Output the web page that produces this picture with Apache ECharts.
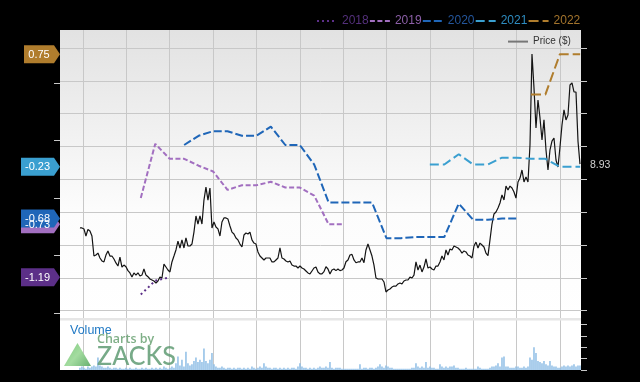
<!DOCTYPE html>
<html><head><meta charset="utf-8">
<style>html,body{margin:0;padding:0;background:#000}#c{width:640px;height:382px}</style>
<script src="https://cdn.jsdelivr.net/npm/echarts@6/dist/echarts.min.js"></script>
</head><body><div id="c"></div>
<script>
// x unit: months since the first vertical grid line
const monthTicks=[0,3,6,9,12,15,18,21,24,27,30,33];
const priceTicks=[0,2,4,6,8,10,12,14,16];
const epsTicks=[0.5,0,-0.5,-1,-1.5];
const volumeTicks=[0,10,20,30,40];
const priceStartMonth=-0.21, priceStepMonth=0.1384;
const priceValues=[5.05,5.04,4.98,4.55,4.95,4.85,4.55,3.33,3.39,3.51,3.21,3.03,2.97,3.39,3.64,3.33,3.33,3.15,2.91,2.72,
3.27,2.66,2.78,2.68,2.44,2.30,2.05,2.30,2.17,2.31,2.11,2.17,2.54,2.17,2.07,1.93,1.87,1.81,1.69,1.81,
2.05,1.99,2.84,2.66,2.48,2.36,2.97,3.33,3.70,4.24,3.82,4.31,3.82,4.43,3.94,3.94,4.06,4.79,5.77,5.28,
5.77,5.28,6.74,7.53,6.74,7.47,5.04,5.40,5.10,4.98,4.55,5.40,5.65,5.65,5.58,5.16,4.79,4.67,4.43,4.31,
4.06,3.88,4.61,4.73,4.67,4.79,4.31,4.12,4.06,3.58,3.33,3.21,3.09,3.21,3.21,3.21,2.97,2.97,3.09,3.21,
3.82,3.21,3.15,3.03,2.97,3.03,2.78,2.72,2.72,2.60,2.72,2.60,2.54,2.42,2.30,2.24,2.42,2.60,2.66,2.36,
2.24,2.24,2.38,2.68,2.54,2.24,2.48,2.54,2.44,2.54,2.44,2.48,2.60,2.98,3.09,3.39,3.43,3.09,2.92,2.97,
2.97,3.21,2.92,3.70,4.06,3.70,3.33,2.78,1.99,1.93,1.93,1.93,1.75,1.14,1.26,1.32,1.44,1.50,1.50,1.63,
1.69,1.63,1.81,1.87,1.87,2.05,1.99,2.17,2.97,2.48,2.78,2.36,2.66,3.15,2.60,2.66,2.54,2.48,2.72,2.72,
2.97,3.33,3.09,3.70,3.39,3.76,3.70,3.94,3.88,3.82,3.70,3.51,3.64,3.58,3.39,3.33,3.21,3.94,4.18,3.82,
4.12,4.00,3.88,3.51,3.35,4.31,5.28,5.89,6.01,6.25,6.56,7.05,6.74,7.59,7.35,7.59,7.47,7.23,6.86,7.84,
8.08,8.57,7.84,8.14,7.84,10.09,15.63,13.57,11.13,12.83,11.74,10.40,11.62,9.79,8.57,9.79,10.33,10.52,9.18,8.75,
9.97,11.31,12.23,11.62,11.92,13.75,13.87,13.32,13.32,10.33,8.93];
const volumeValues=[2,3,2,1,3,2,3,4,3,11,4,3,2,2,3,2,1,2,2,1,
2,1,1,2,1,2,1,1,2,1,1,2,1,2,1,1,2,1,2,1,
2,1,3,2,1,2,3,2,6,12,4,9,3,16,6,4,5,8,11,7,
9,7,19,8,6,9,15,5,3,2,2,3,2,1,2,2,1,2,1,2,
2,1,2,1,2,1,3,2,1,2,3,2,6,3,2,2,1,2,2,1,
2,1,2,1,2,1,2,2,1,3,6,3,2,2,1,2,1,2,1,2,
3,2,2,3,2,7,2,1,2,2,2,1,1,1,1,1,1,1,1,1,
5,1,2,2,1,2,2,1,2,3,5,3,2,4,3,2,2,1,1,1,
1,1,1,1,1,1,2,2,6,3,2,3,2,7,2,3,2,2,1,1,
5,3,2,3,2,3,3,4,2,2,1,1,1,2,1,1,1,1,1,3,
2,1,1,1,1,2,3,3,4,6,3,11,12,3,3,2,2,2,3,3,
2,2,3,2,3,11,9,20,15,8,7,6,8,5,4,8,4,3,3,2,
2,3,4,3,4,3,4,5,3,4,4];
const eps2018Months=[4,5,6];
const eps2018=[-1.34,-1.22,-1.19];
const eps2019Months=[4,5,6,7,8,9,10,11,12,13,14,15,16,17,18];
const eps2019=[-0.50,-0.03,-0.16,-0.16,-0.22,-0.27,-0.43,-0.39,-0.39,-0.36,-0.41,-0.41,-0.48,-0.73,-0.73];
const eps2020Months=[7,8,9,10,11,12,13,14,15,16,17,18,19,20,21,22,23,24,25,26,27,28,29,30];
const eps2020=[-0.04,0.04,0.08,0.08,0.04,0.04,0.12,-0.04,-0.04,-0.21,-0.54,-0.54,-0.54,-0.54,-0.85,-0.85,-0.84,-0.84,-0.84,-0.55,-0.69,-0.69,-0.68,-0.68];
const eps2021Months=[24,25,26,27,28,29,30,31,32,33,34,34.4];
const eps2021=[-0.21,-0.21,-0.12,-0.21,-0.21,-0.15,-0.15,-0.16,-0.16,-0.23,-0.23,-0.23];
const eps2022Months=[31,32,33,34,34.4];
const eps2022=[0.40,0.40,0.75,0.75,0.75];
const yearNames=['2018','2019','2020','2021','2022'];
const volumeLabel='Volume', priceName='Price ($)', logoTop='Charts by', logoMain='ZACKS';

const xMin=-1.59,xMax=34.46;
const tickCol='#c8c8c8';
const pairs=(xs,ys)=>xs.map((x,i)=>[x,ys[i]]);
const flag=(val,color,w)=>({
  silent:true,animation:false,
  data:[{coord:[xMin,val],symbol:'path://M0 0H'+(w-6)+'L'+w+' 9L'+(w-6)+' 18H0Z',symbolSize:[w,18],
    symbolOffset:[-w/2,0],itemStyle:{color},
    label:{show:true,formatter:String(val.toFixed(2)),color:'#fff',fontSize:11,fontFamily:'Liberation Sans',offset:[-3,0.5]}}]
});
const eps=(i,xs,ys,color,dash,z,w)=>({
  name:yearNames[i],type:'line',xAxisIndex:0,yAxisIndex:1,data:pairs(xs,ys),symbol:'none',z,
  lineStyle:{color,width:2,type:dash},itemStyle:{color},clip:false,
  markPoint:flag(ys[ys.length-1],color,w)
});
const legText=['#54307c','#8c5fa8','#24569c','#2e8cc0','#a3742c'];
const hiddenSymbol={color:'transparent',borderWidth:0};
const yHidden={show:false,onZero:false};
const opt={
  animation:false,backgroundColor:'#000',
  grid:[
    {left:60,width:521,top:30,height:289,show:true,borderWidth:0,
     backgroundColor:new echarts.graphic.LinearGradient(0,0,0,1,[{offset:0,color:'#e2e2e2'},{offset:0.62,color:'#fcfcfc'},{offset:1,color:'#fff'}])},
    {left:60,width:521,top:319,height:51,show:true,borderWidth:0,backgroundColor:'#fff'}
  ],
  xAxis:[0,1].map(g=>({type:'value',gridIndex:g,min:xMin,max:xMax,
    axisLine:yHidden,axisLabel:{show:false,customValues:monthTicks},
    axisTick:{show:false,customValues:monthTicks},
    splitLine:{show:true,lineStyle:{color:tickCol,width:1}}})),
  yAxis:[
    {type:'value',gridIndex:0,position:'right',min:-0.505,max:17.095,
     axisLine:yHidden,axisLabel:{show:false,customValues:priceTicks},
     axisTick:{show:true,length:6,lineStyle:{color:tickCol},customValues:priceTicks},
     splitLine:{show:true,lineStyle:{color:tickCol,width:1}}},
    {type:'value',gridIndex:0,position:'left',min:-1.553,max:0.96,
     axisLine:yHidden,axisLabel:{show:false,customValues:epsTicks},
     axisTick:{show:true,length:6,lineStyle:{color:tickCol},customValues:epsTicks},
     splitLine:{show:false}},
    {type:'value',gridIndex:1,position:'right',min:0,max:45,
     axisLine:yHidden,axisLabel:{show:false,customValues:volumeTicks},
     axisTick:{show:true,length:6,lineStyle:{color:tickCol},customValues:volumeTicks},
     splitLine:{show:false}}
  ],
  legend:[
    {left:316,top:15,itemWidth:20,itemHeight:14,itemGap:0.2,padding:0,selectedMode:false,
     data:yearNames.map((n,i)=>({name:n,itemStyle:hiddenSymbol,textStyle:{color:legText[i],fontSize:12,fontFamily:'Liberation Sans'}}))},
    {left:507,top:36,itemWidth:20,itemHeight:14,padding:0,selectedMode:false,
     data:[{name:priceName,itemStyle:hiddenSymbol,lineStyle:{color:'#777',width:2},textStyle:{color:'#333',fontSize:10,fontFamily:'Liberation Sans'}}]}
  ],
  series:[
    {type:'bar',name:volumeLabel,xAxisIndex:1,yAxisIndex:2,barWidth:1.5,z:2,
     data:volumeValues.map((v,i)=>[priceStartMonth+i*priceStepMonth,v]),
     itemStyle:{color:'#8fbee6'}},
    {type:'line',name:priceName,xAxisIndex:0,yAxisIndex:0,symbol:'none',z:3,
     data:priceValues.map((v,i)=>[priceStartMonth+i*priceStepMonth,v]),
     lineStyle:{color:'#141414',width:1.2},itemStyle:{color:'#777'},
     endLabel:{show:true,formatter:()=>priceValues[priceValues.length-1].toFixed(2),color:'#d0d0d0',fontSize:10.5,fontFamily:'Liberation Sans',distance:10,offset:[0,1.5]}},
    eps(0,eps2018Months,eps2018,'#5c2f88',[2,3],4,39),
    eps(1,eps2019Months,eps2019,'#a26fc0',[5,2.5],4,39),
    eps(2,eps2020Months,eps2020,'#1f66b8',[8,3],5,39),
    eps(3,eps2021Months,eps2021,'#3a9fd0',[9,4],5,39),
    eps(4,eps2022Months,eps2022,'#b07d2d',[10,4],6,36)
  ],
  graphic:[
    {type:'rect',z:1,silent:true,shape:{x:60,y:318,width:521,height:2.5},style:{fill:'#e6e6e6'}},
    {type:'text',z:20,x:70,y:324,silent:true,style:{text:volumeLabel,fill:'#1f78c4',font:'12.5px "Liberation Sans"'}},
    {type:'polygon',z:20,silent:true,shape:{points:[[64,366],[91,366],[77.5,343]]},
     style:{fill:new echarts.graphic.LinearGradient(0,0,1,1,[{offset:0,color:'#7cc97c'},{offset:0.5,color:'#a4dca0'},{offset:1,color:'#68b070'}])}},
    {type:'text',z:20,x:97,y:333,silent:true,style:{text:logoTop,fill:'rgba(95,155,105,0.8)',font:'600 12.5px "Open Sans"'}},
    {type:'text',z:20,x:97,y:343,scaleX:0.93,silent:true,style:{text:logoMain,fill:'rgba(95,155,115,0.85)',font:'500 27px "Lato"'}}
  ]
};
echarts.init(document.getElementById('c'),null,{renderer:'canvas'}).setOption(opt);
</script></body></html>
